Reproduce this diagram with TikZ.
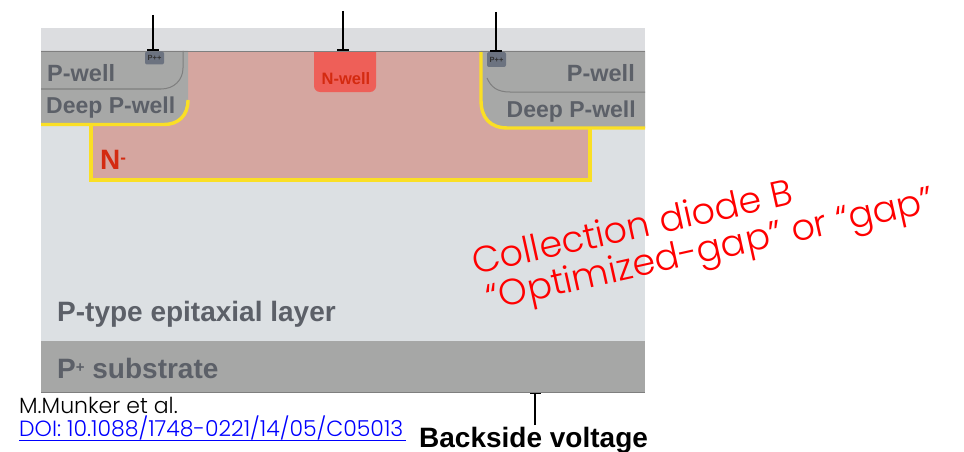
\documentclass[tikz,border=0pt]{standalone}
\usepackage{fontspec}
\setmainfont{Liberation Sans}
\newfontfamily\gothfont[UprightFont=* Light]{Poppins}
\definecolor{bandgray}{HTML}{DCDDE0}
\definecolor{epi}{HTML}{DCE0E3}
\definecolor{subgray}{HTML}{A6A7A6}
\definecolor{pinkreg}{HTML}{D5A6A0}
\definecolor{wellgray}{HTML}{A7A8A7}
\definecolor{nwellred}{HTML}{EE5F58}
\definecolor{ppbox}{HTML}{6C7380}
\definecolor{labgray}{HTML}{5C6068}
\definecolor{yel}{HTML}{FADF25}
\definecolor{edgegray}{HTML}{7F7F7F}
\definecolor{nred}{HTML}{D42A10}
\tikzset{
 lab/.style={font=\bfseries\fontsize{#1}{#1}\selectfont,text=labgray,inner sep=0pt},
 lab/.default=23.5,
 yline/.style={draw=yel,line width=3.4pt},
 wline/.style={draw=edgegray,line width=1pt},
 stem/.style={draw=black,line width=2.2pt},
 redtxt/.style={font=\gothfont\fontsize{36.5}{36.5}\selectfont,text=red,inner sep=0pt,rotate=12.5},
 ppb/.style={fill=ppbox,inner sep=0pt,rounded corners=2pt,font=\bfseries\fontsize{7.5}{7.5}\selectfont,text=black!80}
}
\begin{document}
\begin{tikzpicture}[x=1pt,y=-1pt]
\useasboundingbox (0,0) rectangle (964,452);
% layers
\fill[bandgray] (41,28) rectangle (645,51);
\fill[epi] (41,51) rectangle (645,341);
\fill[subgray] (41,341) rectangle (645,392);
\draw[edgegray,line width=0.8pt] (41,392) -- (645,392);
% collection region
\fill[pinkreg] (91,51) rectangle (590,180);
% wells
\fill[wellgray] (41,51) -- (188,51) -- (188,100) .. controls (188,116) and (178,124.500) .. (164,124.500) -- (41,124.500) -- cycle;
\fill[wellgray] (645,51) -- (481,51) -- (481,100) .. controls (481,118) and (490,128) .. (508,128) -- (645,128) -- cycle;
% well outlines
\draw[wline] (41,89) -- (161,89) .. controls (174,89) and (183,80) .. (183,68) -- (183,51);
\draw[wline] (487,78) .. controls (491,87) and (497,92) .. (510,92) -- (645,92);
% yellow junction
\draw[yline] (41,124.500) -- (164,124.500) .. controls (178,124.500) and (188,116) .. (188,100);
\draw[yline] (481,51) -- (481,100) .. controls (481,118) and (490,128) .. (508,128) -- (645,128);
\draw[yline] (91,125) -- (91,180) -- (590,180) -- (590,129);
% top surface
\draw[edgegray,line width=1.2pt] (41,51.500) -- (645,51.500);
% N-well
\fill[nwellred,rounded corners=6pt] (314,45) rectangle (376,92);
\fill[bandgray] (312,28) rectangle (378,51);
\draw[edgegray,line width=1.2pt] (312,51.500) -- (378,51.500);
\node[font=\bfseries\fontsize{16.500}{16.500}\selectfont,text=nred,inner sep=0pt] (nwell) at (346,79) {N-well};
\coordinate (nwelltop) at (343,50);
% P++ contacts
\node[ppb,minimum width=19pt,minimum height=13pt] (ppl) at (154.500,58) {P++};
\node[ppb,minimum width=19pt,minimum height=15pt] (ppr) at (496.500,59.500) {P++};
% terminals
\coordinate (tl) at (153,15);
\coordinate (tm) at (343,11);
\coordinate (tr) at (496,12);
\coordinate (tb) at (535,425);
\coordinate (tbb) at (535,393.500);
\draw[stem] (tl) -- (ppl.north -| tl);
\draw[stem] (147,50) -- (159,50);
\draw[stem] (tm) -- (nwelltop);
\draw[stem] (337,50) -- (349,50);
\draw[stem] (tr) -- (ppr.north -| tr);
\draw[stem] (490,51) -- (502,51);
\draw[draw=black,line width=1.6pt] (tb) -- (tbb);
\draw[draw=black,line width=1.6pt] (530,393.500) -- (541,393.500);
% labels
\node[lab,anchor=west] (pl) at (47,73) {P-well};
\node[lab=23,anchor=west] (dl) at (46,108) {Deep P-well};
\node[lab,anchor=east] (pr) at (635,73) {P-well};
\node[lab=23,anchor=east] (dr) at (636,112) {Deep P-well};
\node[font=\bfseries\fontsize{28}{28}\selectfont,text=nred,inner sep=0pt,anchor=west] (nm) at (100,160) {N\raisebox{6pt}{\fontsize{17}{17}\selectfont -}};
\node[lab=28,anchor=west] (epil) at (57,314) {P-type epitaxial layer};
\node[lab=28,anchor=west] (subl) at (57,368) {P\raisebox{6pt}{\fontsize{15}{15}\selectfont +} substrate};
\node[font=\bfseries\fontsize{28}{28}\selectfont,text=black,inner sep=0pt,anchor=west] (back) at (419,440) {Backside voltage};
\node[font=\gothfont\fontsize{22}{22}\selectfont,text=black,inner sep=0pt,anchor=west] (auth) at (19,405) {M.Munker et al.};
\node[font=\gothfont\fontsize{22}{22}\selectfont,text=blue,inner sep=0pt,anchor=west] (doi) at (19,428) {DOI: 10.1088/1748-0221/14/05/C05013};
\draw[blue,line width=1pt] (19,440) -- (406,440);
\node[redtxt] (c1) at (632,226) {Collection diode B};
\node[redtxt] (c2) at (711,252) {“Optimized-gap” or “gap”};
\end{tikzpicture}
\end{document}
